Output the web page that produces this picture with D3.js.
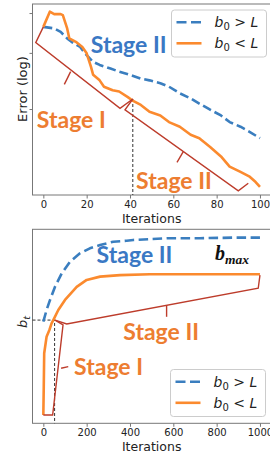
<!DOCTYPE html>
<html>
<head>
<meta charset="utf-8">
<script src="https://cdn.jsdelivr.net/npm/d3@7/dist/d3.min.js"></script>
<style>
body { margin: 0; background: #fff; }
svg { display: block; font-family: "DejaVu Sans", sans-serif; }
.stage { font-family: Lato, sans-serif; font-weight: bold; font-size: 23px; }
</style>
</head>
<body>
<div id="chart"></div>
<script>
// ---- top panel: error (log) vs iterations ----
const topXTicks = [0, 20, 40, 60, 80, 100];
const topYTicks = [2, 3, 4];

const bigIters = [0, 5, 8, 11, 13, 17, 20, 23, 26, 31, 35, 40, 45, 49, 54, 58, 63, 68, 72, 77, 82, 86, 91, 95, 100];
const bigErr = [3.62, 3.58, 3.49, 3.33, 3.25, 3.13, 2.95, 2.81, 2.75, 2.68, 2.62, 2.56, 2.49, 2.46, 2.41, 2.35, 2.24, 2.16, 2.08, 1.99, 1.91, 1.82, 1.76, 1.70, 1.62];

const smallIters = [0, 3, 5, 8, 9, 11, 12, 15, 18, 20, 22, 23, 26, 28, 32, 35, 39, 41, 45, 49, 54, 58, 63, 68, 72, 77, 82, 86, 91, 95, 98, 100];
const smallErr = [3.62, 4.04, 3.97, 3.97, 3.94, 3.58, 3.33, 3.25, 3.13, 2.99, 2.71, 2.56, 2.46, 2.35, 2.29, 2.27, 2.18, 2.13, 2.06, 1.96, 1.91, 1.82, 1.76, 1.66, 1.62, 1.52, 1.42, 1.32, 1.27, 1.23, 1.18, 1.14];

// switch point on the error plot
const errSwitch = [41.3, 2.15];

// bracket outlines [iteration, error] and their middle tips
const errBracketI = [[0, 3.62], [-3.5, 3.23], [35.4, 2.01], [41.3, 2.15]];
const errTipI = [[12.6, 2.62], [9.7, 2.39]];
const errBracketII = [[41.3, 2.15], [37.7, 1.99], [90, 1.108], [94.6, 1.17]];
const errTipII = [[64.6, 1.47], [61.7, 1.36]];

// ---- bottom panel: batch size b_t vs iterations ----
const botXTicks = [0, 200, 400, 600, 800, 1000];

const bigBIters = [0, 15, 31, 54, 85, 123, 169, 215, 262, 323, 385, 415, 570, 723, 877, 1000];
const bigB = [52.4, 58.4, 63.6, 70.4, 77.3, 83.3, 87.6, 90.2, 91.9, 93.6, 94.1, 94.5, 95.4, 95.4, 95.7, 95.7];

const smallBIters = [0, 2, 4, 15, 28, 38, 46, 69, 100, 154, 200, 262, 354, 492, 1000];
const smallB = [4.3, 18.9, 36.1, 44.6, 48.1, 51.5, 53.2, 58.4, 63.6, 70.3, 73.9, 75.6, 76.4, 76.8, 76.8];

const bSwitch = [52, 53.2];

const bBracketI = [[0, 4.3], [43, 4.3], [91, 50.7], [54, 53.2]];
const bTipI = [[82, 28.4], [115, 29.2]];
const bBracketII = [[54, 53.2], [108, 51.2], [992, 69.6], [1000, 76.4]];
const bTipII = [[569, 60.8], [569, 54.9]];

const blue = "#3a7ebf";
const orange = "#fb8a2e";
const blueText = "#3a78c4";
const orangeText = "#ed7d31";
const red = "#bd3c2b";
const spine = "#777";

const width = 270, height = 454;
const svg = d3.select("#chart").append("svg").attr("width", width).attr("height", height);

// scales
const xTop = d3.scaleLinear().domain([-5, 105]).range([32.5, 270.8]);
const yTop = d3.scaleLog().domain([1.075, 4.27]).range([195, 4]);
const xBot = d3.scaleLinear().domain([-50, 1050]).range([32.5, 270.8]);
const yBot = d3.scaleLinear().domain([0, 100]).range([423.3, 229.3]);

function frame(x, y) {
    svg.append("rect")
        .attr("x", x.range()[0]).attr("y", y.range()[1])
        .attr("width", x.range()[1] - x.range()[0])
        .attr("height", y.range()[0] - y.range()[1])
        .attr("fill", "none").attr("stroke", spine).attr("stroke-width", 1);
}

function xAxis(x, y, ticks) {
    const g = svg.append("g")
        .attr("transform", `translate(0,${y.range()[0]})`)
        .call(d3.axisBottom(x).tickValues(ticks).tickFormat(d3.format("d")).tickSize(3.5).tickPadding(2.5));
    g.select(".domain").remove();
    g.selectAll("line").attr("stroke", spine);
    g.selectAll("text").attr("font-size", "10px").attr("fill", "#222")
        .attr("font-family", "DejaVu Sans, sans-serif");
    svg.append("text")
        .attr("x", (x.range()[0] + x.range()[1]) / 2)
        .attr("y", y.range()[0] + 27.5)
        .attr("text-anchor", "middle")
        .attr("font-size", "12.5px").attr("fill", "#222")
        .text("Iterations");
}

function series(x, y, iters, vals, color, dash) {
    svg.append("path")
        .datum(iters.map((d, i) => [d, vals[i]]))
        .attr("fill", "none")
        .attr("stroke", color)
        .attr("stroke-width", 2.6)
        .attr("stroke-linejoin", "round")
        .attr("stroke-dasharray", dash)
        .attr("d", d3.line().x(d => x(d[0])).y(d => y(d[1])));
}

function bracket(x, y, pts, tip) {
    const line = d3.line().x(d => x(d[0])).y(d => y(d[1]));
    svg.append("path").attr("d", line(pts))
        .attr("fill", "none").attr("stroke", red).attr("stroke-width", 1.4);
    svg.append("path").attr("d", line(tip))
        .attr("fill", "none").attr("stroke", red).attr("stroke-width", 1.4);
}

function stage(x, y, at, label, color) {
    svg.append("text").attr("class", "stage")
        .attr("x", x(at[0])).attr("y", y(at[1]))
        .attr("fill", color).text(label);
}

function legend(lx, ly) {
    const g = svg.append("g").attr("transform", `translate(${lx},${ly})`);
    g.append("rect").attr("width", 95).attr("height", 47).attr("rx", 3)
        .attr("fill", "#fff").attr("fill-opacity", 0.8)
        .attr("stroke", "#ccc").attr("stroke-width", 1);
    const rows = [{ c: blue, dash: "10,4.5", op: ">" }, { c: orange, dash: null, op: "<" }];
    rows.forEach((r, i) => {
        const cy = 12.3 + i * 21;
        g.append("line").attr("x1", 5).attr("x2", 30).attr("y1", cy).attr("y2", cy)
            .attr("stroke", r.c).attr("stroke-width", 2.6).attr("stroke-dasharray", r.dash);
        const t = g.append("text").attr("x", 43).attr("y", cy + 5).attr("font-size", "14px").attr("fill", "#222");
        t.append("tspan").attr("font-style", "italic").text("b");
        t.append("tspan").attr("font-size", "10px").attr("dy", 3).text("0");
        t.append("tspan").attr("dy", -3).text(" " + r.op + " ");
        t.append("tspan").attr("font-style", "italic").text("L");
    });
}

// ===== top panel =====
frame(xTop, yTop);
const yTopAxis = svg.append("g")
    .attr("transform", `translate(${xTop.range()[0]},0)`)
    .call(d3.axisLeft(yTop).tickValues(topYTicks).tickSize(3).tickFormat(""));
yTopAxis.select(".domain").remove();
yTopAxis.selectAll("line").attr("stroke", spine);
xAxis(xTop, yTop, topXTicks);

svg.append("text")
    .attr("transform", "translate(26.5,89) rotate(-90)")
    .attr("text-anchor", "middle").attr("font-size", "13px").attr("fill", "#222")
    .text("Error (log)");

// dashed switch line
svg.append("line")
    .attr("x1", xTop(errSwitch[0])).attr("x2", xTop(errSwitch[0]))
    .attr("y1", yTop(errSwitch[1])).attr("y2", yTop.range()[0])
    .attr("stroke", "#333").attr("stroke-width", 1).attr("stroke-dasharray", "3,2");

series(xTop, yTop, bigIters, bigErr, blue, "9,4");
series(xTop, yTop, smallIters, smallErr, orange, null);
bracket(xTop, yTop, errBracketI, errTipI);
bracket(xTop, yTop, errBracketII, errTipII);

stage(xTop, yTop, [21.9, 2.99], "Stage II", blueText);
stage(xTop, yTop, [-3.0, 1.75], "Stage I", orangeText);
stage(xTop, yTop, [42.8, 1.12], "Stage II", orangeText);
legend(171.5, 10);

// ===== bottom panel =====
frame(xBot, yBot);
xAxis(xBot, yBot, botXTicks);

svg.append("text")
    .attr("transform", "translate(26.5,322) rotate(-90)")
    .attr("text-anchor", "middle").attr("font-size", "13px").attr("fill", "#222")
    .call(t => {
        t.append("tspan").attr("font-style", "italic").text("b");
        t.append("tspan").attr("font-style", "italic").attr("font-size", "9.5px").attr("dy", 3).text("t");
    });

svg.append("path")
    .attr("d", d3.line()([
        [xBot.range()[0], yBot(bSwitch[1])],
        [xBot(bSwitch[0]), yBot(bSwitch[1])],
        [xBot(bSwitch[0]), yBot.range()[0]]
    ]))
    .attr("fill", "none").attr("stroke", "#333").attr("stroke-width", 1).attr("stroke-dasharray", "3,2");

series(xBot, yBot, bigBIters, bigB, blue, "9.5,4.5");
series(xBot, yBot, smallBIters, smallB, orange, null);
bracket(xBot, yBot, bBracketI, bTipI);
bracket(xBot, yBot, bBracketII, bTipII);

stage(xBot, yBot, [246, 82.5], "Stage II", blueText);
stage(xBot, yBot, [369, 42.9], "Stage II", orangeText);
stage(xBot, yBot, [142, 24.9], "Stage I", orangeText);

const bmax = svg.append("text")
    .attr("x", xBot(792)).attr("y", yBot(84.2))
    .attr("font-family", "Liberation Serif, serif").attr("font-weight", "bold")
    .attr("font-style", "italic").attr("fill", "#111");
bmax.append("tspan").attr("font-size", "20px").text("b");
bmax.append("tspan").attr("font-size", "13.5px").attr("dy", 4).text("max");

legend(170.5, 369.5);
</script>
</body>
</html>
